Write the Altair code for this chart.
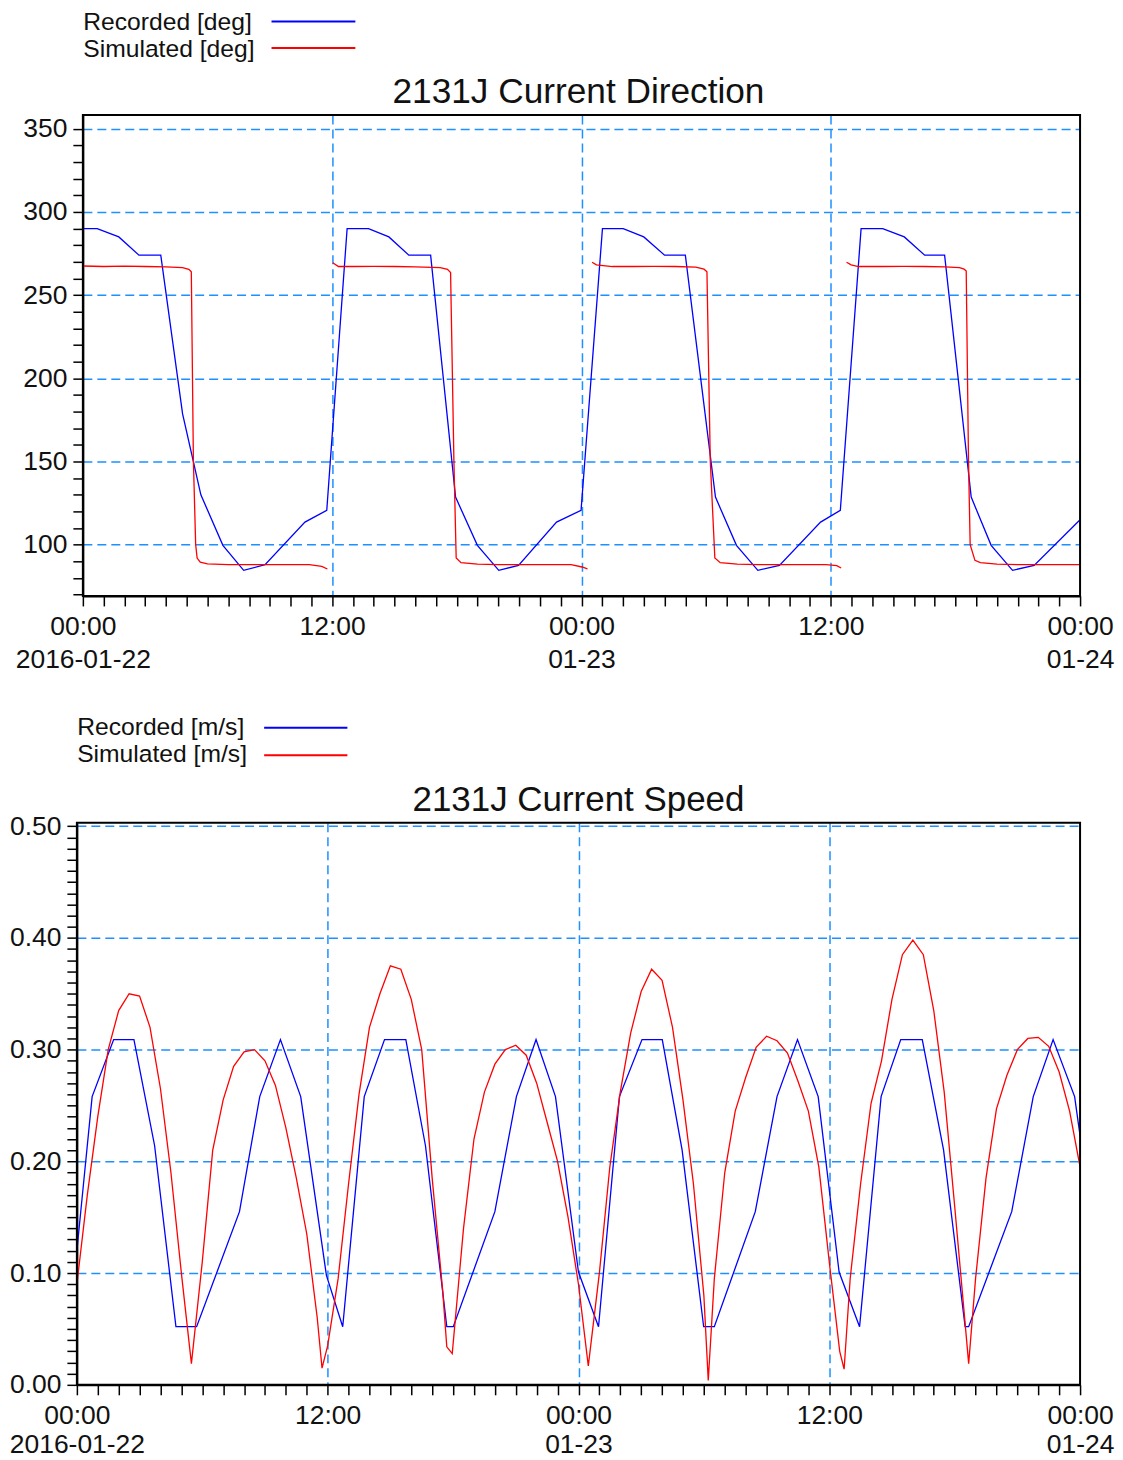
import altair as alt
import pandas as pd

# ---------------- data (hours since 2016-01-22 00:00) ----------------
dir_rec_h = [0.0, 0.69, 1.73, 2.70, 3.75, 4.80, 5.68, 6.74, 7.74, 8.77, 10.69, 11.74,
             12.72, 13.75, 14.73, 15.69, 16.74, 17.94, 18.99, 20.02, 20.97, 22.8, 23.98,
             25.01, 26.01, 27.0, 28.0, 29.0, 30.45, 31.46, 32.49, 33.53, 35.51, 36.46,
             37.46, 38.5, 39.54, 40.52, 41.48, 42.76, 43.72, 44.75, 45.79, 48.0]
dir_rec_v = [290, 290, 285, 274, 274, 178.6, 130, 99.6, 84.6, 88, 113.6, 120.6,
             290, 290, 285, 274, 274, 128.6, 99.6, 84.6, 87.6, 113.6, 120.6,
             290, 290, 285, 274, 274, 128.6, 99.6, 84.6, 87.6, 113.6, 120.6,
             290, 290, 285, 274, 274, 128.6, 99.6, 84.6, 87.6, 115]

dir_sim_h = [0.0, 1.0, 2.0, 3.0, 4.0, 4.8, 5.1, 5.22, 5.32, 5.43, 5.5, 5.65, 6.0, 7.0, 8.0, 9.0,
             10.0, 10.9, 11.5, 11.77,
             12.03, 12.3, 13.0, 14.0, 15.0, 16.0, 17.2, 17.55, 17.7, 17.86, 17.97, 18.2, 19.0,
             20.0, 21.0, 22.0, 23.0, 23.5, 24.03, 24.29,
             24.51, 24.72, 25.49, 26.5, 27.5, 28.5, 29.5, 29.9, 30.04, 30.2, 30.42, 30.68,
             31.5, 32.5, 33.5, 34.5, 35.77, 36.29, 36.5,
             36.76, 36.98, 37.33, 38.5, 39.5, 40.5, 41.5, 42.2, 42.42, 42.52, 42.63, 42.71,
             42.94, 43.2, 44.0, 45.0, 46.0, 47.0, 48.0]
dir_sim_v = [267.5, 267.2, 267.4, 267.2, 267.0, 266.5, 265.5, 264.0, 150.6, 100, 92, 89.5, 88.5, 88, 88, 88,
             88, 88, 87, 85.4,
             269.5, 267.2, 267.2, 267.3, 267.2, 267.0, 266.5, 265.5, 263.6, 150.6, 92, 89.2, 88.3,
             88, 88, 88, 88, 88, 86.6, 85.5,
             269.8, 268.2, 267.2, 267.2, 267.3, 267.2, 266.8, 265.6, 264.0, 150.6, 92, 89.2,
             88.3, 88, 88, 88, 88, 87.4, 86,
             269.8, 268.2, 267.2, 267.2, 267.3, 267.2, 267.0, 266.5, 265.6, 264.5, 150.6, 100,
             90.6, 89.2, 88.3, 88, 88, 88, 88]
dir_sim_seg = [1] * 20 + [2] * 20 + [3] * 19 + [4] * 19

spd_rec_h = [0.0, 0.73, 1.76, 2.73, 3.72, 4.74, 5.73, 7.78, 8.75, 9.74, 10.71, 11.94,
             12.72, 13.75, 14.72, 15.74, 16.68, 17.70, 18.01, 20.0, 21.03, 21.97, 22.9, 24.0,
             24.96, 25.96, 27.04, 28.01, 28.96, 29.99, 30.5, 32.46, 33.5, 34.48, 35.47, 36.47,
             37.45, 38.48, 39.42, 40.45, 41.47, 42.5, 42.67, 44.73, 45.76, 46.71, 47.74, 48.0]
spd_rec_v = [0.12, 0.258, 0.309, 0.309, 0.214, 0.052, 0.052, 0.155, 0.258, 0.309, 0.258, 0.098,
             0.052, 0.258, 0.309, 0.309, 0.214, 0.052, 0.052, 0.155, 0.258, 0.309, 0.258, 0.101,
             0.052, 0.258, 0.309, 0.309, 0.21, 0.052, 0.052, 0.155, 0.258, 0.309, 0.258, 0.101,
             0.052, 0.258, 0.309, 0.309, 0.21, 0.052, 0.052, 0.155, 0.258, 0.309, 0.258, 0.223]

spd_sim_h = [0.0, 0.5, 1.0, 1.5, 2.0, 2.5, 3.0, 3.5, 4.0, 4.5, 5.0, 5.48,
             6.0, 6.5, 7.0, 7.5, 8.0, 8.5, 9.0, 9.5, 10.0, 10.5, 11.0, 11.5, 11.73,
             12.0, 12.5, 13.0, 13.5, 14.0, 14.5, 15.0, 15.5, 16.0, 16.5, 17.0, 17.5, 17.7, 17.96,
             18.5, 19.0, 19.5, 20.0, 20.5, 21.0, 21.5, 22.0, 22.5, 23.0, 23.5, 24.0, 24.47,
             25.0, 25.5, 26.0, 26.5, 27.0, 27.5, 28.0, 28.5, 29.0, 29.5, 30.0, 30.21,
             30.5, 31.0, 31.5, 32.0, 32.5, 33.0, 33.5, 34.0, 34.5, 35.0, 35.5, 36.0, 36.5, 36.71,
             37.0, 37.5, 38.0, 38.5, 39.0, 39.5, 40.0, 40.5, 41.0, 41.5, 42.0, 42.5, 42.67,
             43.0, 43.5, 44.0, 44.5, 45.0, 45.5, 46.0, 46.5, 47.0, 47.5, 48.0]
spd_sim_v = [0.09, 0.17, 0.24, 0.30, 0.335, 0.35, 0.348, 0.32, 0.265, 0.19, 0.10, 0.019,
             0.11, 0.21, 0.255, 0.285, 0.298, 0.30, 0.29, 0.268, 0.23, 0.185, 0.135, 0.06, 0.015,
             0.035, 0.095, 0.18, 0.26, 0.32, 0.35, 0.375, 0.372, 0.345, 0.30, 0.185, 0.085, 0.034, 0.028,
             0.14, 0.22, 0.262, 0.287, 0.30, 0.304, 0.295, 0.27, 0.235, 0.20, 0.15, 0.09, 0.017,
             0.10, 0.195, 0.262, 0.315, 0.352, 0.372, 0.362, 0.32, 0.255, 0.18, 0.08, 0.004,
             0.095, 0.19, 0.245, 0.275, 0.302, 0.312, 0.308, 0.297, 0.272, 0.245, 0.195, 0.11, 0.03, 0.014,
             0.095, 0.18, 0.252, 0.29, 0.345, 0.385, 0.398, 0.385, 0.335, 0.262, 0.16, 0.055, 0.019,
             0.095, 0.185, 0.247, 0.277, 0.30, 0.31, 0.311, 0.303, 0.28, 0.245, 0.195]

dir_labels = ["Recorded [deg]", "Simulated [deg]"]
spd_labels = ["Recorded [m/s]", "Simulated [m/s]"]
line_colors = ["#0000ff", "#ff0000"]

# ---------------- helpers ----------------
BASE = pd.Timestamp("2016-01-22 00:00")
FONT = "Liberation Sans"
GRID = "#1E90FF"
LABEL_SIZE = 26.5


def to_time(hours):
    return [(BASE + pd.Timedelta(hours=h)).strftime("%Y-%m-%dT%H:%M:%S") for h in hours]


t_start = alt.DateTime(year=2016, month=1, date=22, hours=0)
t_end = alt.DateTime(year=2016, month=1, date=24, hours=0)
hour_ticks = [alt.DateTime(year=2016, month=1, date=22 + h // 24, hours=h % 24) for h in range(49)]

x_label_expr = ("hours(datum.value) == 0 ? [timeFormat(datum.value, '%H:%M'), "
                "date(datum.value) == 22 ? timeFormat(datum.value, '%Y-%m-%d') : timeFormat(datum.value, '%m-%d')] : "
                "(hours(datum.value) == 12 ? timeFormat(datum.value, '%H:%M') : '')")
x_grid_test = "hours(datum.value) == 12 || (hours(datum.value) == 0 && date(datum.value) == 23)"


def x_enc(rng, line_h, field="t"):
    return alt.X(f"{field}:T", title=None,
                 scale=alt.Scale(domain=[t_start, t_end], range=rng, nice=False),
                 axis=alt.Axis(values=hour_ticks, labelExpr=x_label_expr,
                               labelLineHeight=line_h, labelPadding=8,
                               gridOpacity={"condition": {"test": x_grid_test, "value": 1}, "value": 0}))


W = 1005
SHIFT = 6.0   # top plot starts a little to the right of the bottom one

# ---------------- top chart: direction ----------------
dir_rec = pd.DataFrame({"t": to_time(dir_rec_h), "v": dir_rec_v})
dir_sim = pd.DataFrame({"t": to_time(dir_sim_h), "v": dir_sim_v, "seg": dir_sim_seg})
DIR_DOM = [69.2, 358.2]
frame_dir = pd.DataFrame({"t": to_time([0]), "t2": to_time([48]), "v": [DIR_DOM[0]], "v2": [DIR_DOM[1]]})

y_dir = alt.Y("v:Q", title=None,
              scale=alt.Scale(domain=DIR_DOM, nice=False, zero=False),
              axis=alt.Axis(values=list(range(70, 351, 10)), offset=-SHIFT, labelPadding=6,
                            labelExpr="datum.value % 50 == 0 ? datum.label : ''",
                            gridOpacity={"condition": {"test": "datum.value % 50 == 0", "value": 1}, "value": 0}))
X_TOP = [SHIFT, W]

top = alt.layer(
    alt.Chart(dir_rec).mark_line(color=line_colors[0], strokeWidth=1.3).encode(x=x_enc(X_TOP, 32.5), y=y_dir),
    alt.Chart(dir_sim).mark_line(color=line_colors[1], strokeWidth=1.3).encode(x=x_enc(X_TOP, 32.5), y=y_dir, detail="seg:N"),
    alt.Chart(frame_dir).mark_rect(fillOpacity=0, stroke="black", strokeWidth=2).encode(
        x=x_enc(X_TOP, 32.5), x2="t2:T", y=y_dir, y2="v2:Q"),
).properties(width=W, height=481.7, title=alt.TitleParams("2131J Current Direction", fontSize=35.3))

# ---------------- bottom chart: speed ----------------
spd_rec = pd.DataFrame({"t": to_time(spd_rec_h), "v": spd_rec_v})
spd_sim = pd.DataFrame({"t": to_time(spd_sim_h), "v": spd_sim_v})
SPD_DOM = [0.0, 0.503]
frame_spd = pd.DataFrame({"t": to_time([0]), "t2": to_time([48]), "v": [SPD_DOM[0]], "v2": [SPD_DOM[1]]})
spd_test = "abs(datum.value * 10 - round(datum.value * 10)) < 0.001"
y_spd = alt.Y("v:Q", title=None,
              scale=alt.Scale(domain=SPD_DOM, nice=False, zero=False),
              axis=alt.Axis(values=[round(i * 0.01, 2) for i in range(51)], format=".2f", labelPadding=6,
                            labelExpr=f"{spd_test} ? datum.label : ''",
                            gridOpacity={"condition": {"test": f"{spd_test} && datum.value > 0", "value": 1}, "value": 0}))
X_BOT = [0, W]

bottom = alt.layer(
    alt.Chart(spd_rec).mark_line(color=line_colors[0], strokeWidth=1.3).encode(x=x_enc(X_BOT, 28.5), y=y_spd),
    alt.Chart(spd_sim).mark_line(color=line_colors[1], strokeWidth=1.3).encode(x=x_enc(X_BOT, 28.5), y=y_spd),
    alt.Chart(frame_spd).mark_rect(fillOpacity=0, stroke="black", strokeWidth=2).encode(
        x=x_enc(X_BOT, 28.5), x2="t2:T", y=y_spd, y2="v2:Q"),
).properties(width=W, height=563, title=alt.TitleParams("2131J Current Speed", dy=9))


# ---------------- legends ----------------
def legend(labels, rng, text_x, line_x, height, baseline, rule_dy):
    df = pd.DataFrame({"label": labels, "color": line_colors})
    y = alt.Y("label:N", axis=None,
              scale=alt.Scale(type="point", domain=labels, range=rng, padding=0))
    txt = alt.Chart(df).mark_text(align="left", baseline=baseline, font=FONT, fontSize=24.7,
                                  color="#111").encode(x=alt.value(text_x), y=y, text="label:N")
    rule = alt.Chart(df).mark_rule(strokeWidth=2, yOffset=rule_dy).encode(
        x=alt.value(line_x[0]), x2=alt.value(line_x[1]), y=y,
        color=alt.Color("color:N", scale=None))
    return alt.layer(txt, rule).properties(width=W, height=height)


leg_top = legend(dir_labels, [0.0, 26.4], 6.4, [195.0, 279.0], 62.7, "top", 11.3)
leg_bot = legend(spd_labels, [52.7, 80.2], 0.3, [187.6, 271.0], 106.4, "middle", 0)

chart = alt.vconcat(leg_top, top, leg_bot, bottom, spacing=0, padding=0).configure(
    font=FONT
).configure_view(
    stroke="transparent"
).configure_axis(
    domainColor="black", domainWidth=2, tickColor="black", tickWidth=1.5, tickSize=10,
    labelFont=FONT, labelFontSize=LABEL_SIZE, labelColor="#111",
    gridColor=GRID, gridDash=[9, 5], gridWidth=1.5,
    labelOverlap=False, labelFlush=False
).configure_title(
    font=FONT, fontSize=35, fontWeight="normal", color="#111", anchor="middle",
    offset=4, baseline="bottom", frame="group"
)

chart.save("out.html", embed_options={"renderer": "svg", "actions": False})
